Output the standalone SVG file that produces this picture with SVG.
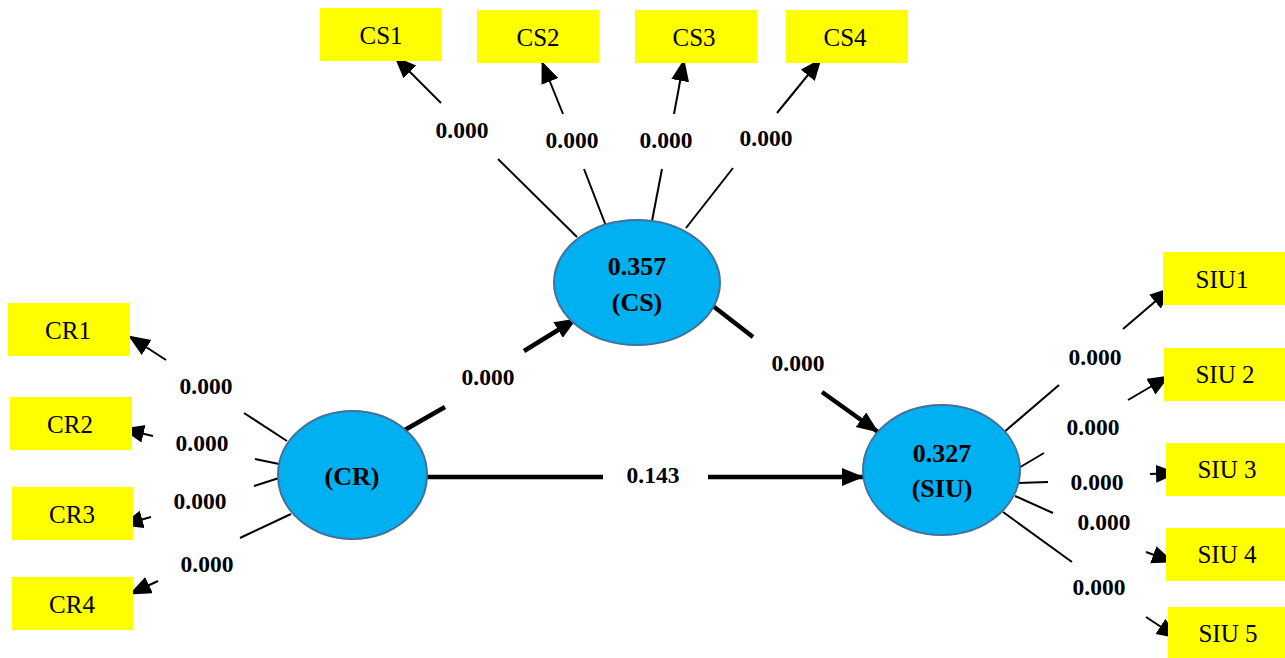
<svg xmlns="http://www.w3.org/2000/svg" width="1285" height="658" viewBox="0 0 1285 658">
<style>
.box{fill:#FFFF00;stroke:none}
.bt{font-family:"Liberation Serif",serif;font-size:25px;fill:#000;text-anchor:middle;dominant-baseline:central}
.lv{fill:#00B0F0;stroke:#41719C;stroke-width:2}
.lt{font-family:"Liberation Serif",serif;font-size:26px;font-weight:bold;fill:#000;text-anchor:middle;dominant-baseline:central}
.el{font-family:"Liberation Serif",serif;font-size:23.5px;font-weight:bold;fill:#000;text-anchor:middle;dominant-baseline:central}
.thin{stroke:#000;stroke-width:2;fill:none}
.thick{stroke:#000;stroke-width:4.5;fill:none}
.ah{marker-end:url(#arr)}
</style>
<defs>
<marker id="arr" markerUnits="userSpaceOnUse" markerWidth="24" markerHeight="20" refX="21" refY="9" orient="auto" viewBox="0 0 24 20">
<path d="M0,0 L22,9 L0,18 z" fill="#000"/>
</marker>
</defs>
<g id="connectors">
<line class="thin" x1="577" y1="237" x2="498" y2="159"/>
<line class="thin ah" x1="441" y1="103" x2="395" y2="57"/>
<line class="thin" x1="606" y1="226" x2="584" y2="169"/>
<line class="thin ah" x1="563" y1="114" x2="542" y2="62"/>
<line class="thin" x1="652" y1="221" x2="662" y2="169"/>
<line class="thin ah" x1="674" y1="114" x2="684" y2="60"/>
<line class="thin" x1="686" y1="228" x2="733" y2="168"/>
<line class="thin ah" x1="777" y1="113" x2="821" y2="59"/>
<line class="thin" x1="287" y1="441" x2="244" y2="413"/>
<line class="thin ah" x1="166" y1="360" x2="129" y2="336"/>
<line class="thin" x1="279" y1="464" x2="255" y2="459"/>
<line class="thin ah" x1="153" y1="436" x2="123" y2="429"/>
<line class="thin" x1="279" y1="478" x2="254" y2="486"/>
<line class="thin ah" x1="151" y1="517" x2="122" y2="525"/>
<line class="thin" x1="291" y1="514" x2="240" y2="538"/>
<line class="thin ah" x1="158" y1="581" x2="130" y2="594"/>
<line class="thin" x1="1003" y1="433" x2="1059" y2="385"/>
<line class="thin ah" x1="1123" y1="329" x2="1171" y2="288"/>
<line class="thin" x1="1017" y1="469" x2="1044" y2="453"/>
<line class="thin ah" x1="1128" y1="400" x2="1169" y2="376"/>
<line class="thin" x1="1018" y1="483" x2="1048" y2="482"/>
<line class="thin ah" x1="1150" y1="474" x2="1177" y2="473"/>
<line class="thin" x1="1015" y1="496" x2="1053" y2="513"/>
<line class="thin ah" x1="1146" y1="552" x2="1173" y2="562"/>
<line class="thin" x1="1003" y1="512" x2="1072" y2="562"/>
<line class="thin ah" x1="1146" y1="617" x2="1178" y2="638"/>
<line class="thick" x1="403" y1="431" x2="445" y2="407"/>
<line class="thick ah" x1="524" y1="351" x2="576" y2="319"/>
<line class="thick" x1="713" y1="306" x2="753" y2="337"/>
<line class="thick ah" x1="822" y1="392" x2="878" y2="432"/>
<line class="thick" x1="423" y1="477" x2="603" y2="477"/>
<line class="thick ah" x1="708" y1="477" x2="863" y2="477"/>
<text class="el" x="462" y="130">0.000</text>
<text class="el" x="572" y="140">0.000</text>
<text class="el" x="666" y="140">0.000</text>
<text class="el" x="766" y="138">0.000</text>
<text class="el" x="206" y="386">0.000</text>
<text class="el" x="202" y="443">0.000</text>
<text class="el" x="200" y="501">0.000</text>
<text class="el" x="207" y="564">0.000</text>
<text class="el" x="1095" y="357">0.000</text>
<text class="el" x="1093" y="427">0.000</text>
<text class="el" x="1097" y="482">0.000</text>
<text class="el" x="1104" y="522">0.000</text>
<text class="el" x="1099" y="587">0.000</text>
<text class="el" x="488" y="377">0.000</text>
<text class="el" x="798" y="363">0.000</text>
<text class="el" x="653" y="475">0.143</text>
</g>
<g id="CS"><ellipse class="lv" cx="637" cy="282.5" rx="83" ry="62.5"/><text class="lt" x="637" y="266">0.357</text><text class="lt" x="637" y="302">(CS)</text></g>
<g id="CR"><ellipse class="lv" cx="352.5" cy="475" rx="74.5" ry="64"/><text class="lt" x="352" y="476">(CR)</text></g>
<g id="SIU"><ellipse class="lv" cx="941.5" cy="470" rx="78.5" ry="65"/><text class="lt" x="942" y="453">0.327</text><text class="lt" x="942" y="488">(SIU)</text></g>
<g id="CS1"><rect class="box" x="320" y="8" width="122" height="53"/><text class="bt" x="381" y="35">CS1</text></g>
<g id="CS2"><rect class="box" x="477" y="10" width="122" height="53"/><text class="bt" x="538" y="37">CS2</text></g>
<g id="CS3"><rect class="box" x="635" y="10" width="122" height="53"/><text class="bt" x="694" y="37">CS3</text></g>
<g id="CS4"><rect class="box" x="786" y="10" width="122" height="53"/><text class="bt" x="845" y="37">CS4</text></g>
<g id="CR1"><rect class="box" x="8" y="303" width="122" height="53"/><text class="bt" x="68" y="330">CR1</text></g>
<g id="CR2"><rect class="box" x="10" y="397" width="122" height="53"/><text class="bt" x="70" y="424">CR2</text></g>
<g id="CR3"><rect class="box" x="12" y="487" width="121" height="53"/><text class="bt" x="72" y="514">CR3</text></g>
<g id="CR4"><rect class="box" x="12" y="577" width="121" height="53"/><text class="bt" x="72" y="604">CR4</text></g>
<g id="SIU1"><rect class="box" x="1163" y="252" width="122" height="53"/><text class="bt" x="1222" y="279">SIU1</text></g>
<g id="SIU2"><rect class="box" x="1164" y="348" width="121" height="53"/><text class="bt" x="1225" y="374">SIU 2</text></g>
<g id="SIU3"><rect class="box" x="1166" y="443" width="119" height="53"/><text class="bt" x="1227" y="469">SIU 3</text></g>
<g id="SIU4"><rect class="box" x="1166" y="528" width="119" height="53"/><text class="bt" x="1227" y="554">SIU 4</text></g>
<g id="SIU5"><rect class="box" x="1168" y="607" width="117" height="51"/><text class="bt" x="1228" y="633">SIU 5</text></g>
</svg>
